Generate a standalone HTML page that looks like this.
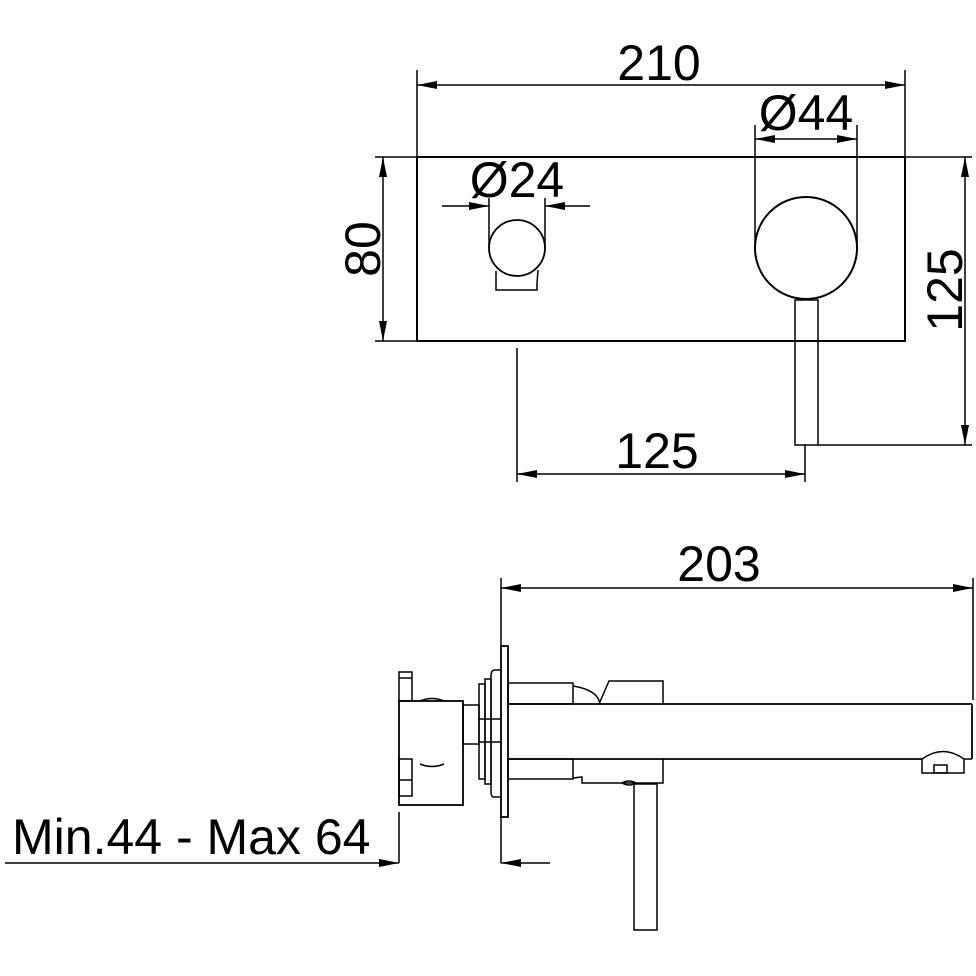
<!DOCTYPE html>
<html><head><meta charset="utf-8"><style>
html,body{margin:0;padding:0;background:#fff;width:976px;height:976px;overflow:hidden}
text{font-family:"Liberation Sans",Arial,sans-serif;fill:#000}
</style></head><body>
<svg width="976" height="976" viewBox="0 0 976 976" xmlns="http://www.w3.org/2000/svg">
<defs>
<marker id="a" viewBox="0 0 20 8" refX="20" refY="4" markerWidth="22" markerHeight="8" markerUnits="userSpaceOnUse" orient="auto-start-reverse"><path d="M0,0 L20,4 L0,8 z" fill="#000"/></marker>
</defs>
<g fill="none" stroke="#000" stroke-width="1.5">
<!-- top view -->
<rect x="417" y="157" width="488" height="184" stroke-width="2"/>
<line x1="417" y1="70" x2="417" y2="157"/><line x1="905" y1="70" x2="905" y2="157"/>
<line x1="417" y1="85" x2="905" y2="85" marker-start="url(#a)" marker-end="url(#a)"/>
<line x1="375" y1="157" x2="417" y2="157"/><line x1="375" y1="341" x2="417" y2="341"/>
<line x1="383" y1="157" x2="383" y2="341" marker-start="url(#a)" marker-end="url(#a)"/>
<line x1="905" y1="157" x2="972" y2="157"/><line x1="818" y1="445" x2="972" y2="445"/>
<line x1="965" y1="157" x2="965" y2="445" marker-start="url(#a)" marker-end="url(#a)"/>
<circle cx="517" cy="248" r="28" stroke-width="1.8"/>
<path d="M496,271 L496,290 L537,290 L537,283 M538,270 L537,283"/>
<line x1="489" y1="198" x2="489" y2="248"/><line x1="545" y1="198" x2="545" y2="248"/>
<line x1="442" y1="206" x2="489" y2="206" marker-end="url(#a)"/>
<line x1="590" y1="206" x2="545" y2="206" marker-end="url(#a)"/>
<circle cx="806" cy="248" r="51" stroke-width="2"/>
<line x1="755" y1="125" x2="755" y2="248"/><line x1="857" y1="125" x2="857" y2="248"/>
<line x1="755" y1="139" x2="857" y2="139" marker-start="url(#a)" marker-end="url(#a)"/>
<rect x="795" y="300" width="23" height="145"/>
<line x1="517" y1="348" x2="517" y2="482"/><line x1="805" y1="445" x2="805" y2="482"/>
<line x1="517" y1="474" x2="805" y2="474" marker-start="url(#a)" marker-end="url(#a)"/>
<!-- side view -->
<line x1="501" y1="578" x2="501" y2="646"/><line x1="973" y1="578" x2="973" y2="700"/>
<line x1="501" y1="588" x2="973" y2="588" marker-start="url(#a)" marker-end="url(#a)"/>
<rect x="501" y="646" width="7" height="171" stroke-width="1.8"/>
<path d="M501,670 L494,670 Q491,671 491,676 L491,792 Q491,797 494,797 L501,797"/>
<rect x="485" y="679" width="6" height="105"/>
<rect x="479" y="684" width="6" height="95"/>
<rect x="463" y="705" width="16" height="39"/>
<line x1="479" y1="719" x2="501" y2="719"/><line x1="479" y1="742" x2="501" y2="742"/>
<rect x="399" y="701" width="64" height="104" stroke-width="1.8"/>
<rect x="399" y="672" width="13" height="29"/>
<rect x="399" y="759" width="13" height="37"/>
<line x1="399" y1="678" x2="412" y2="678"/><line x1="399" y1="780" x2="412" y2="780"/>
<path d="M420,701 Q432,696 444,701 M420,764 Q432,769 444,764"/>
<rect x="508" y="683" width="65" height="21"/>
<rect x="508" y="759" width="65" height="20"/>
<line x1="508" y1="704" x2="972" y2="704" stroke-width="1.8"/>
<line x1="508" y1="759" x2="922" y2="759" stroke-width="1.8"/>
<line x1="972" y1="704" x2="972" y2="759" stroke-width="1.8"/>
<line x1="964" y1="759" x2="972" y2="759"/>
<path d="M573,686 Q598,690 600,704"/>
<path d="M599,704 L609,681 L663,681 L663,704"/>
<path d="M573,778 L582,777 L582,783 L663,783 L663,759"/>
<path d="M622,783 Q629,779 636,783 Q629,787 622,783"/>
<rect x="634" y="784" width="23" height="146"/>
<path d="M922,773 L922,759 Q943,744 964,759 L964,773 Z"/>
<rect x="934" y="765" width="13" height="8"/>
<line x1="399" y1="812" x2="399" y2="863"/><line x1="501" y1="817" x2="501" y2="863"/>
<line x1="5" y1="863" x2="399" y2="863" marker-end="url(#a)"/>
<line x1="550" y1="863" x2="501" y2="863" marker-end="url(#a)"/>
</g>
<text x="659" y="80" font-size="50" text-anchor="middle">210</text>
<text x="806" y="130" font-size="50" text-anchor="middle">Ø44</text>
<text x="517" y="197" font-size="50" text-anchor="middle">Ø24</text>
<text transform="translate(380,249) rotate(-90)" font-size="50" text-anchor="middle">80</text>
<text transform="translate(962,290) rotate(-90)" font-size="50" text-anchor="middle">125</text>
<text x="657" y="468" font-size="50" text-anchor="middle">125</text>
<text x="719" y="581" font-size="50" text-anchor="middle">203</text>
<text x="12" y="854" font-size="50">Min.44 - Max 64</text>
</svg>
</body></html>
